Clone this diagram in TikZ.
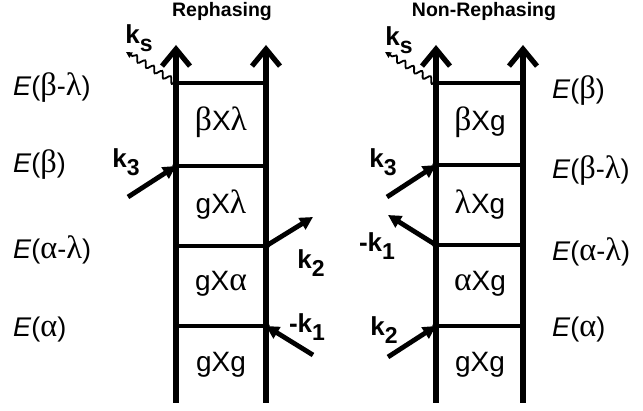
\documentclass[tikz,border=0pt]{standalone}
\usepackage{fontspec}
\setmainfont{Liberation Sans}
\newfontfamily\grk[Scale=1.2]{Liberation Serif}
\usetikzlibrary{arrows.meta, decorations.pathmorphing}

\newcommand{\gk}[1]{{\grk #1}}
\newcommand{\Elev}[1]{\textit{E}(#1)}
\newcommand{\kb}[2]{#1k\raisebox{-8pt}{\fontsize{23}{23}\selectfont #2}}

\begin{document}
\begin{tikzpicture}[
  x=1pt, y=-1pt,
  rail/.style = {line width=5.2pt, -{Straight Barb[length=17pt, width=28pt]}},
  rung/.style = {line width=3.5pt},
  beam/.style = {line width=4.8pt, -{Triangle[length=13pt, width=13pt]}},
  signal/.style = {line width=1.8pt, decorate,
    decoration={snake, amplitude=3pt, segment length=10pt, post length=5pt},
    -{Triangle[length=6pt, width=6pt]}},
  level/.style = {anchor=west, inner sep=0pt, font=\fontsize{27}{27}\selectfont},
  pop/.style = {font=\fontsize{28}{28}\selectfont},
  klab/.style = {font=\bfseries\fontsize{26}{26}\selectfont},
  title/.style = {font=\bfseries\fontsize{19.5}{19.5}\selectfont},
  dot/.style = {circle, fill, inner sep=0pt, minimum size=7.5pt}
]
  \useasboundingbox (0,0) rectangle (643,411);

  % Rephasing ladder
  \node[title] (r_title) at (222,12) {Rephasing};
  \coordinate (Rl_bot) at (176,403);
  \coordinate (Rl_top) at (176,45);
  \coordinate (Rr_bot) at (266,403);
  \coordinate (Rr_top) at (266,45);
  \draw[rail] (Rl_bot) -- (Rl_top);
  \draw[rail] (Rr_bot) -- (Rr_top);
  \foreach \i/\y in {1/326, 2/246, 3/166, 4/83} {
    \coordinate (Rl\i) at (176,\y);
    \coordinate (Rr\i) at (266,\y);
    \draw[rung] (Rl\i) -- (Rr\i);
  }
  \node[dot] at (Rl4) {};
  \node[dot] at (Rl3) {};
  \node[dot] at (Rr2) {};
  \node[dot] at (Rr1) {};

  \node[pop] (r_bl) at (221,122) {\gk{β}X\gk{λ}};
  \node[pop] (r_gl) at (221,205) {gX\gk{λ}};
  \node[pop] (r_ga) at (221,284) {gX\gk{α}};
  \node[pop] (r_gg) at (221,365) {gXg};

  \node[level] (r_e4) at (13,88) {\Elev{\gk{β}-\gk{λ}}};
  \node[level] (r_e3) at (13,165) {\Elev{\gk{β}}};
  \node[level] (r_e2) at (13,250) {\Elev{\gk{α}-\gk{λ}}};
  \node[level] (r_e1) at (13,330) {\Elev{\gk{α}}};

  % Rephasing fields
  \coordinate (Rk3) at (128,197);
  \coordinate (Rk2) at (313,217);
  \coordinate (Rk1) at (313,355);
  \coordinate (Rks) at (126,52);
  \draw[beam] (Rk3) -- (Rl3);
  \draw[beam] (Rr2) -- (Rk2);
  \draw[beam] (Rk1) -- (Rr1);
  \draw[signal] (Rl4) -- (Rks);
  \node[klab] (r_ks) at (139,38) {\kb{}{s}};
  \node[klab] (r_k3) at (126,162) {\kb{}{3}};
  \node[klab] (r_k2) at (311,263) {\kb{}{2}};
  \node[klab] (r_k1) at (307,327) {\kb{-}{1}};

  % Non-rephasing ladder
  \node[title] (n_title) at (484,12) {Non-Rephasing};
  \coordinate (Nl_bot) at (436,403);
  \coordinate (Nl_top) at (436,45);
  \coordinate (Nr_bot) at (523,403);
  \coordinate (Nr_top) at (523,45);
  \draw[rail] (Nl_bot) -- (Nl_top);
  \draw[rail] (Nr_bot) -- (Nr_top);
  \foreach \i/\y in {1/326, 2/245, 3/165, 4/83} {
    \coordinate (Nl\i) at (436,\y);
    \coordinate (Nr\i) at (523,\y);
    \draw[rung] (Nl\i) -- (Nr\i);
  }
  \node[dot] at (Nl4) {};
  \node[dot] at (Nl3) {};
  \node[dot] at (Nl2) {};
  \node[dot] at (Nl1) {};

  \node[pop] (n_bg) at (480,122) {\gk{β}Xg};
  \node[pop] (n_lg) at (480,205) {\gk{λ}Xg};
  \node[pop] (n_ag) at (480,284) {\gk{α}Xg};
  \node[pop] (n_gg) at (480,365) {gXg};

  \node[level] (n_e4) at (552,91) {\Elev{\gk{β}}};
  \node[level] (n_e3) at (552,171) {\Elev{\gk{β}-\gk{λ}}};
  \node[level] (n_e2) at (552,252) {\Elev{\gk{α}-\gk{λ}}};
  \node[level] (n_e1) at (552,330) {\Elev{\gk{α}}};

  % Non-rephasing fields
  \coordinate (Nk3) at (387,197);
  \coordinate (Nk1) at (388,215);
  \coordinate (Nk2) at (388,357);
  \coordinate (Nks) at (385,52);
  \draw[beam] (Nk3) -- (Nl3);
  \draw[beam] (Nl2) -- (Nk1);
  \draw[beam] (Nk2) -- (Nl1);
  \draw[signal] (Nl4) -- (Nks);
  \node[klab] (n_ks) at (399,40) {\kb{}{s}};
  \node[klab] (n_k3) at (383,162) {\kb{}{3}};
  \node[klab] (n_k1) at (377,246) {\kb{-}{1}};
  \node[klab] (n_k2) at (384,330) {\kb{}{2}};

\end{tikzpicture}
\end{document}
